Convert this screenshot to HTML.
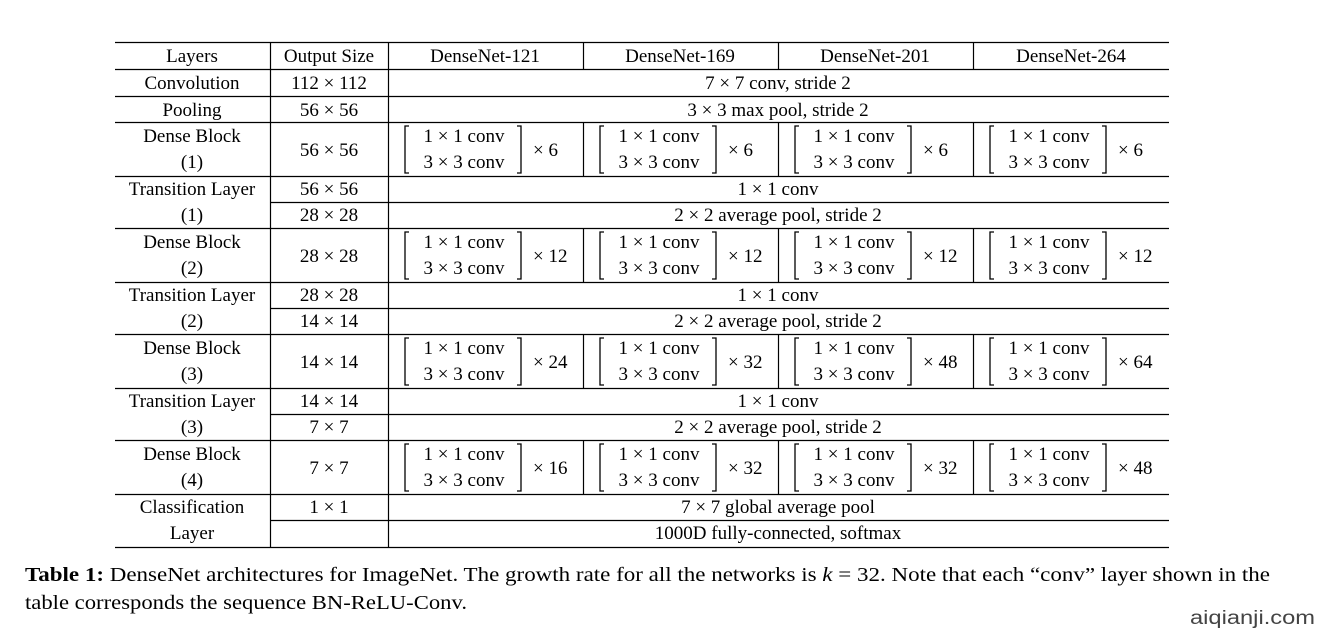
<!DOCTYPE html>
<html><head><meta charset="utf-8"><style>
html,body{margin:0;padding:0;background:#fff;width:1324px;height:640px;overflow:hidden}
svg{display:block}
text{font-family:"Liberation Serif",serif;font-size:19px;fill:#000}
.m{text-anchor:middle}
.s{text-anchor:start}
</style></head><body>
<svg width="1324" height="640" viewBox="0 0 1324 640" xmlns="http://www.w3.org/2000/svg">
<g stroke="#000" stroke-width="1.2" fill="none">
<line x1="115" y1="42.5" x2="1169" y2="42.5"/>
<line x1="115" y1="69.5" x2="1169" y2="69.5"/>
<line x1="115" y1="96.5" x2="1169" y2="96.5"/>
<line x1="115" y1="122.5" x2="1169" y2="122.5"/>
<line x1="115" y1="176.5" x2="1169" y2="176.5"/>
<line x1="270" y1="202.5" x2="1169" y2="202.5"/>
<line x1="115" y1="228.5" x2="1169" y2="228.5"/>
<line x1="115" y1="282.5" x2="1169" y2="282.5"/>
<line x1="270" y1="308.5" x2="1169" y2="308.5"/>
<line x1="115" y1="334.5" x2="1169" y2="334.5"/>
<line x1="115" y1="388.5" x2="1169" y2="388.5"/>
<line x1="270" y1="414.5" x2="1169" y2="414.5"/>
<line x1="115" y1="440.5" x2="1169" y2="440.5"/>
<line x1="115" y1="494.5" x2="1169" y2="494.5"/>
<line x1="270" y1="520.5" x2="1169" y2="520.5"/>
<line x1="115" y1="547.5" x2="1169" y2="547.5"/>
<line x1="270.5" y1="42" x2="270.5" y2="547"/>
<line x1="388.5" y1="42" x2="388.5" y2="547"/>
<line x1="583.5" y1="42" x2="583.5" y2="69"/>
<line x1="778.5" y1="42" x2="778.5" y2="69"/>
<line x1="973.5" y1="42" x2="973.5" y2="69"/>
<line x1="583.5" y1="122" x2="583.5" y2="176"/>
<line x1="778.5" y1="122" x2="778.5" y2="176"/>
<line x1="973.5" y1="122" x2="973.5" y2="176"/>
<line x1="583.5" y1="228" x2="583.5" y2="282"/>
<line x1="778.5" y1="228" x2="778.5" y2="282"/>
<line x1="973.5" y1="228" x2="973.5" y2="282"/>
<line x1="583.5" y1="334" x2="583.5" y2="388"/>
<line x1="778.5" y1="334" x2="778.5" y2="388"/>
<line x1="973.5" y1="334" x2="973.5" y2="388"/>
<line x1="583.5" y1="440" x2="583.5" y2="494"/>
<line x1="778.5" y1="440" x2="778.5" y2="494"/>
<line x1="973.5" y1="440" x2="973.5" y2="494"/>
</g>
<defs>
<g id="br" stroke="#000" stroke-width="1.3" fill="none">
<polyline points="21,3 17,3 17,50 21,50"/>
<polyline points="129,3 133,3 133,50 129,50"/>
</g>
</defs>
<g>
<use href="#br" x="388" y="123"/><use href="#br" x="583" y="123"/><use href="#br" x="778" y="123"/><use href="#br" x="973" y="123"/>
<use href="#br" x="388" y="229"/><use href="#br" x="583" y="229"/><use href="#br" x="778" y="229"/><use href="#br" x="973" y="229"/>
<use href="#br" x="388" y="335"/><use href="#br" x="583" y="335"/><use href="#br" x="778" y="335"/><use href="#br" x="973" y="335"/>
<use href="#br" x="388" y="441"/><use href="#br" x="583" y="441"/><use href="#br" x="778" y="441"/><use href="#br" x="973" y="441"/>
</g>
<text class="m" x="192" y="62">Layers</text>
<text class="m" x="329" y="62">Output Size</text>
<text class="m" x="485" y="62">DenseNet-121</text>
<text class="m" x="680" y="62">DenseNet-169</text>
<text class="m" x="875" y="62">DenseNet-201</text>
<text class="m" x="1071" y="62">DenseNet-264</text>
<text class="m" x="192" y="89">Convolution</text>
<text class="m" x="329" y="89">112 × 112</text>
<text class="m" x="778" y="89">7 × 7 conv, stride 2</text>
<text class="m" x="192" y="116">Pooling</text>
<text class="m" x="329" y="116">56 × 56</text>
<text class="m" x="778" y="116">3 × 3 max pool, stride 2</text>

<text class="m" x="192" y="142">Dense Block</text>
<text class="m" x="192" y="168">(1)</text>
<text class="m" x="329" y="156">56 × 56</text>
<text class="m" x="192" y="195">Transition Layer</text>
<text class="m" x="192" y="221">(1)</text>
<text class="m" x="329" y="195">56 × 56</text>
<text class="m" x="329" y="221">28 × 28</text>
<text class="m" x="778" y="195">1 × 1 conv</text>
<text class="m" x="778" y="221">2 × 2 average pool, stride 2</text>

<text class="m" x="192" y="248">Dense Block</text>
<text class="m" x="192" y="274">(2)</text>
<text class="m" x="329" y="262">28 × 28</text>
<text class="m" x="192" y="301">Transition Layer</text>
<text class="m" x="192" y="327">(2)</text>
<text class="m" x="329" y="301">28 × 28</text>
<text class="m" x="329" y="327">14 × 14</text>
<text class="m" x="778" y="301">1 × 1 conv</text>
<text class="m" x="778" y="327">2 × 2 average pool, stride 2</text>

<text class="m" x="192" y="354">Dense Block</text>
<text class="m" x="192" y="380">(3)</text>
<text class="m" x="329" y="368">14 × 14</text>
<text class="m" x="192" y="407">Transition Layer</text>
<text class="m" x="192" y="433">(3)</text>
<text class="m" x="329" y="407">14 × 14</text>
<text class="m" x="329" y="433">7 × 7</text>
<text class="m" x="778" y="407">1 × 1 conv</text>
<text class="m" x="778" y="433">2 × 2 average pool, stride 2</text>

<text class="m" x="192" y="460">Dense Block</text>
<text class="m" x="192" y="486">(4)</text>
<text class="m" x="329" y="474">7 × 7</text>
<text class="m" x="192" y="513">Classification</text>
<text class="m" x="192" y="539">Layer</text>
<text class="m" x="329" y="513">1 × 1</text>
<text class="m" x="778" y="513">7 × 7 global average pool</text>
<text class="m" x="778" y="539">1000D fully-connected, softmax</text>

<text class="m" x="464" y="142">1 × 1 conv</text><text class="m" x="464" y="168">3 × 3 conv</text><text class="s" x="533" y="156">× 6</text>
<text class="m" x="659" y="142">1 × 1 conv</text><text class="m" x="659" y="168">3 × 3 conv</text><text class="s" x="728" y="156">× 6</text>
<text class="m" x="854" y="142">1 × 1 conv</text><text class="m" x="854" y="168">3 × 3 conv</text><text class="s" x="923" y="156">× 6</text>
<text class="m" x="1049" y="142">1 × 1 conv</text><text class="m" x="1049" y="168">3 × 3 conv</text><text class="s" x="1118" y="156">× 6</text>

<text class="m" x="464" y="248">1 × 1 conv</text><text class="m" x="464" y="274">3 × 3 conv</text><text class="s" x="533" y="262">× 12</text>
<text class="m" x="659" y="248">1 × 1 conv</text><text class="m" x="659" y="274">3 × 3 conv</text><text class="s" x="728" y="262">× 12</text>
<text class="m" x="854" y="248">1 × 1 conv</text><text class="m" x="854" y="274">3 × 3 conv</text><text class="s" x="923" y="262">× 12</text>
<text class="m" x="1049" y="248">1 × 1 conv</text><text class="m" x="1049" y="274">3 × 3 conv</text><text class="s" x="1118" y="262">× 12</text>

<text class="m" x="464" y="354">1 × 1 conv</text><text class="m" x="464" y="380">3 × 3 conv</text><text class="s" x="533" y="368">× 24</text>
<text class="m" x="659" y="354">1 × 1 conv</text><text class="m" x="659" y="380">3 × 3 conv</text><text class="s" x="728" y="368">× 32</text>
<text class="m" x="854" y="354">1 × 1 conv</text><text class="m" x="854" y="380">3 × 3 conv</text><text class="s" x="923" y="368">× 48</text>
<text class="m" x="1049" y="354">1 × 1 conv</text><text class="m" x="1049" y="380">3 × 3 conv</text><text class="s" x="1118" y="368">× 64</text>

<text class="m" x="464" y="460">1 × 1 conv</text><text class="m" x="464" y="486">3 × 3 conv</text><text class="s" x="533" y="474">× 16</text>
<text class="m" x="659" y="460">1 × 1 conv</text><text class="m" x="659" y="486">3 × 3 conv</text><text class="s" x="728" y="474">× 32</text>
<text class="m" x="854" y="460">1 × 1 conv</text><text class="m" x="854" y="486">3 × 3 conv</text><text class="s" x="923" y="474">× 32</text>
<text class="m" x="1049" y="460">1 × 1 conv</text><text class="m" x="1049" y="486">3 × 3 conv</text><text class="s" x="1118" y="474">× 48</text>

<text x="25" y="581" style="font-size:20px" textLength="1245" lengthAdjust="spacingAndGlyphs"><tspan font-weight="bold">Table 1:</tspan> DenseNet architectures for ImageNet. The growth rate for all the networks is <tspan font-style="italic">k</tspan> = 32. Note that each “conv” layer shown in the</text>
<text x="25" y="609" style="font-size:20px" textLength="442" lengthAdjust="spacingAndGlyphs">table corresponds the sequence BN-ReLU-Conv.</text>
<text x="1190" y="624" style="font-family:'Liberation Sans',sans-serif;font-size:19px;fill:#444" textLength="125" lengthAdjust="spacingAndGlyphs">aiqianji.com</text>
</svg>
</body></html>
